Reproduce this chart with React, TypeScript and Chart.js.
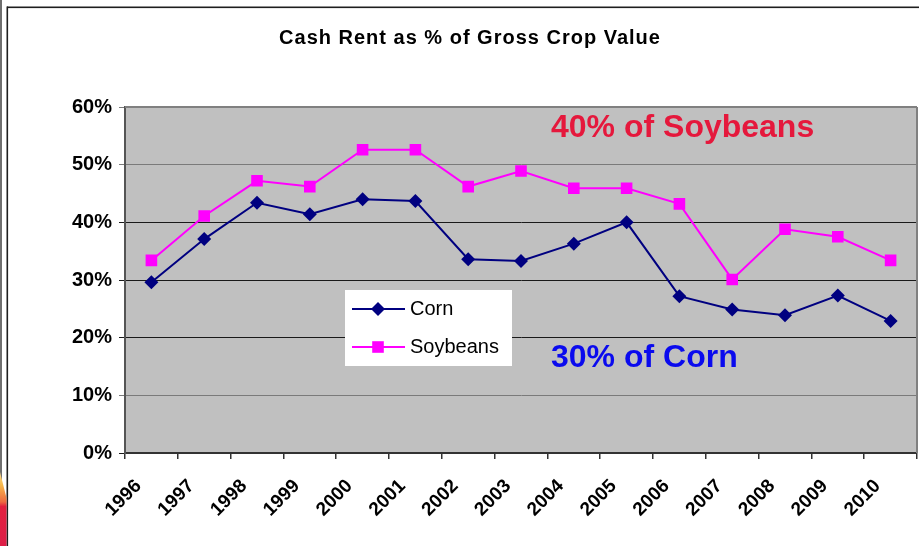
import React, { useEffect, useRef } from "react";
import { Chart, registerables } from "chart.js";

Chart.register(...registerables);

const years = ["1996", "1997", "1998", "1999", "2000", "2001", "2002", "2003", "2004", "2005", "2006", "2007", "2008", "2009", "2010"];
const cornValues = [29.6, 37.1, 43.4, 41.4, 44.0, 43.7, 33.6, 33.3, 36.3, 40.0, 27.2, 24.9, 23.9, 27.3, 22.9];
const soyValues = [33.4, 41.1, 47.2, 46.2, 52.6, 52.6, 46.2, 48.9, 45.9, 45.9, 43.2, 30.1, 38.8, 37.5, 33.4];
const yTickValues = [0, 10, 20, 30, 40, 50, 60];
const lightGridValues = [10, 50, 60];
const titleText = "Cash Rent as % of Gross Crop Value";
const noteSoy = "40% of Soybeans";
const noteCorn = "30% of Corn";

const FONT = '"Liberation Sans", Arial, Helvetica, sans-serif';
const CORN_COLOR = "#000080";
const SOY_COLOR = "#FF00FF";

function drawMarker(ctx: CanvasRenderingContext2D, style: string, x: number, y: number, color: string) {
  ctx.save();
  ctx.fillStyle = color;
  ctx.beginPath();
  if (style === "rectRot") {
    const r = 7;
    ctx.moveTo(x, y - r);
    ctx.lineTo(x + r, y);
    ctx.lineTo(x, y + r);
    ctx.lineTo(x - r, y);
    ctx.closePath();
  } else {
    const s = 5.8;
    ctx.rect(x - s, y - s, 2 * s, 2 * s);
  }
  ctx.fill();
  ctx.restore();
}

const zeroPadding = () => ({ left: 0, top: 0, right: 0, bottom: 0 });

const overlayPlugin = {
  id: "overlay",
  beforeDraw(chart: any) {
    const { ctx, chartArea: a, width, height } = chart;
    ctx.save();
    ctx.fillStyle = "#ffffff";
    ctx.fillRect(0, 0, width, height);
    // slide frame
    ctx.fillStyle = "#6e6e6e";
    ctx.fillRect(0, 0, 2, height);
    ctx.fillStyle = "#1e1e1e";
    ctx.fillRect(7, 6.5, width - 7, 1.6);
    ctx.fillRect(6.5, 6.5, 1.6, height - 6.5);
    // slide decoration bottom-left
    const g = ctx.createLinearGradient(0, 470, 0, 546);
    g.addColorStop(0, "#fde3a0");
    g.addColorStop(0.2, "#f7b84a");
    g.addColorStop(0.42, "#ee6a40");
    g.addColorStop(0.48, "#e2203f");
    g.addColorStop(1, "#dd1f48");
    ctx.fillStyle = g;
    ctx.beginPath();
    ctx.moveTo(0, 472);
    ctx.quadraticCurveTo(4, 488, 6.5, 498);
    ctx.lineTo(6.5, 546);
    ctx.lineTo(0, 546);
    ctx.closePath();
    ctx.fill();
    // plot background
    ctx.fillStyle = "#C0C0C0";
    ctx.fillRect(a.left, a.top, a.right - a.left, a.bottom - a.top);
    ctx.restore();
  },
  afterDraw(chart: any) {
    const { ctx, chartArea: a } = chart;
    ctx.save();
    // plot top/right border
    ctx.strokeStyle = "#808080";
    ctx.lineWidth = 2;
    ctx.beginPath();
    ctx.moveTo(a.right, a.top);
    ctx.lineTo(a.right, a.bottom);
    ctx.stroke();
    ctx.beginPath();
    ctx.moveTo(a.left, a.top);
    ctx.lineTo(a.right, a.top);
    ctx.stroke();

    // title
    ctx.fillStyle = "#000";
    ctx.font = `bold 20px ${FONT}`;
    (ctx as any).letterSpacing = "1px";
    ctx.textAlign = "center";
    ctx.textBaseline = "alphabetic";
    ctx.fillText(titleText, 470, 44);
    (ctx as any).letterSpacing = "0px";

    // notes
    ctx.textAlign = "left";
    ctx.font = `bold 32px ${FONT}`;
    ctx.fillStyle = "#E5183C";
    ctx.fillText(noteSoy, 551, a.top + 30);
    ctx.fillStyle = "#0A0AEE";
    ctx.fillText(noteCorn, 551, a.top + 260);

    // legend
    const lx = a.left + 220;
    const ly = a.top + 183;
    ctx.fillStyle = "#ffffff";
    ctx.fillRect(lx, ly, 167, 76);
    const items = chart.data.datasets.map((ds: any) => ({
      label: ds.label,
      color: ds.borderColor,
      style: ds.pointStyle,
    }));
    items.forEach((it: any, i: number) => {
      const y = ly + 19 + i * 38;
      ctx.strokeStyle = it.color;
      ctx.lineWidth = 2;
      ctx.beginPath();
      ctx.moveTo(lx + 7, y);
      ctx.lineTo(lx + 60, y);
      ctx.stroke();
      drawMarker(ctx, it.style, lx + 33, y, it.color);
      ctx.fillStyle = "#000";
      ctx.font = `20px ${FONT}`;
      ctx.textAlign = "left";
      ctx.textBaseline = "middle";
      ctx.fillText(it.label, lx + 65, y);
    });
    ctx.restore();
  },
};

export default function App() {
  const canvasRef = useRef<HTMLCanvasElement | null>(null);

  useEffect(() => {
    const canvas = canvasRef.current;
    if (!canvas) return;
    const chart = new Chart(canvas, {
      type: "line",
      data: {
        labels: years,
        datasets: [
          {
            label: "Corn",
            data: cornValues,
            borderColor: CORN_COLOR,
            backgroundColor: CORN_COLOR,
            borderWidth: 2,
            pointStyle: "rectRot",
            pointRadius: 7,
            pointBorderWidth: 0,
            pointBackgroundColor: CORN_COLOR,
            tension: 0,
          },
          {
            label: "Soybeans",
            data: soyValues,
            borderColor: SOY_COLOR,
            backgroundColor: SOY_COLOR,
            borderWidth: 2,
            pointStyle: "rect",
            pointRadius: 8.2,
            pointBorderWidth: 0,
            pointBackgroundColor: SOY_COLOR,
            tension: 0,
          },
        ],
      },
      options: {
        responsive: false,
        animation: false,
        layout: { autoPadding: false, padding: { top: 107, right: 2, left: 0, bottom: 0 } },
        plugins: {
          legend: { display: false },
          title: { display: false },
          tooltip: { enabled: false },
        },
        scales: {
          x: {
            type: "category",
            offset: true,
            afterFit: (s: any) => {
              s.height = 93;
              s.paddingLeft = 0;
              s.paddingRight = 0;
              s.getPadding = zeroPadding;
            },
            grid: {
              offset: true,
              drawOnChartArea: false,
              drawTicks: true,
              tickLength: 6,
              color: "#333333",
              lineWidth: 1.5,
            },
            border: { color: "#333333", width: 2 },
            ticks: {
              autoSkip: false,
              maxRotation: 45,
              minRotation: 45,
              labelOffset: -13,
              padding: 16,
              color: "#000",
              font: { family: FONT, size: 19, weight: "bold" },
            },
          },
          y: {
            min: 0,
            max: 60,
            afterFit: (s: any) => {
              s.width = 125;
              s.getPadding = zeroPadding;
            },
            afterBuildTicks: (s: any) => {
              s.ticks = yTickValues.map((v) => ({ value: v }));
            },
            grid: {
              drawTicks: true,
              tickLength: 6,
              lineWidth: 1,
              color: (c: any) =>
                c.tick && lightGridValues.includes(c.tick.value) ? "#7a7a7a" : "#1a1a1a",
            },
            border: { color: "#555555", width: 2 },
            ticks: {
              padding: 7,
              color: "#000",
              font: { family: FONT, size: 20, weight: "bold" },
              callback: (v: any) => `${v}%`,
            },
          },
        },
      },
      plugins: [overlayPlugin],
    } as any);
    return () => chart.destroy();
  }, []);

  return (
    <div style={{ position: "fixed", left: 0, top: 0, width: 919, height: 546, background: "#fff" }}>
      <canvas ref={canvasRef} width={919} height={546} style={{ display: "block" }} />
    </div>
  );
}
